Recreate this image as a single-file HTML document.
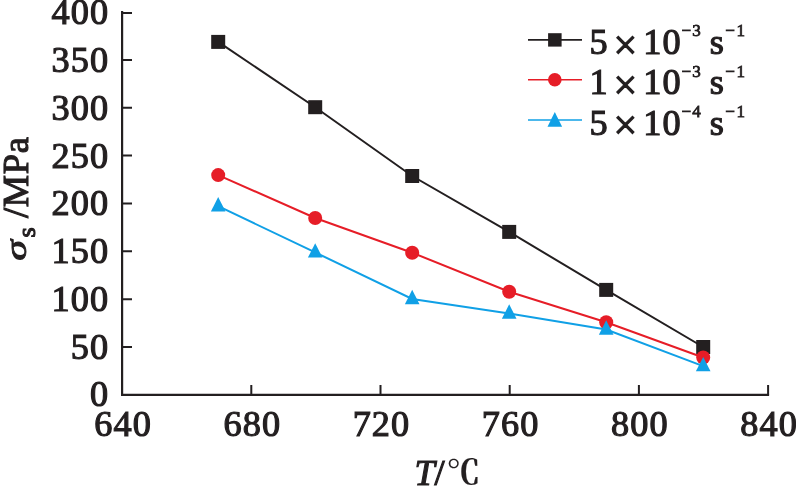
<!DOCTYPE html>
<html lang="en">
<head>
<meta charset="utf-8">
<title>Yield stress versus temperature</title>
<style>
html,body{margin:0;padding:0;background:#fff;}
body{width:796px;height:488px;overflow:hidden;}
svg{display:block;}
text{font-family:"Liberation Serif","Noto Serif CJK SC",serif;fill:#231f20;stroke:#231f20;stroke-width:1.15px;}
.num{font-size:36.3px;letter-spacing:1.1px;}
.yl{text-anchor:end;}
.xl{text-anchor:middle;}
.sup{font-size:17px;letter-spacing:0;stroke-width:0.8px;}
.mul{font-size:42px;stroke-width:1.2px;}
.it{font-style:italic;}
</style>
</head>
<body>
<svg width="796" height="488" viewBox="0 0 796 488">
<rect x="0" y="0" width="796" height="488" fill="#ffffff"/>

<!-- axes -->
<path d="M122.1 11 V394.85 H769.1" fill="none" stroke="#231f20" stroke-width="2.2"/>
<path d="M122.1 347.0 H132 M122.1 299.2 H132 M122.1 251.3 H132 M122.1 203.5 H132 M122.1 155.6 H132 M122.1 107.8 H132 M122.1 59.9 H132 M122.1 12.95 H132" fill="none" stroke="#231f20" stroke-width="2"/>
<path d="M251.3 394.85 V385 M380.5 394.85 V385 M509.7 394.85 V385 M638.9 394.85 V385 M768.1 394.85 V385" fill="none" stroke="#231f20" stroke-width="2"/>
<!-- y tick labels -->
<g class="num yl">
<text x="109.3" y="406.4">0</text>
<text x="109.3" y="358.6">50</text>
<text x="109.3" y="310.8">100</text>
<text x="109.3" y="263.1">150</text>
<text x="109.3" y="215.3">200</text>
<text x="109.3" y="167.6">250</text>
<text x="109.3" y="119.8">300</text>
<text x="109.3" y="72.1">350</text>
<text x="109.3" y="24.3">400</text>
</g>
<!-- x tick labels -->
<g class="num xl">
<text x="123.1" y="436.2">640</text>
<text x="252.3" y="436.2">680</text>
<text x="381.5" y="436.2">720</text>
<text x="510.7" y="436.2">760</text>
<text x="639.9" y="436.2">800</text>
<text x="769.1" y="436.2">840</text>
</g>
<!-- series 1 : black squares -->
<polyline points="218.2,41.9 315.2,107.2 412.2,176.0 509.2,231.9 606.2,289.9 703.2,347.0" fill="none" stroke="#231f20" stroke-width="2"/>
<g fill="#231f20">
<rect x="211.2" y="34.9" width="14" height="14"/>
<rect x="308.2" y="100.2" width="14" height="14"/>
<rect x="405.2" y="169.0" width="14" height="14"/>
<rect x="502.2" y="224.9" width="14" height="14"/>
<rect x="599.2" y="282.9" width="14" height="14"/>
<rect x="696.2" y="340.0" width="14" height="14"/>
</g>
<!-- series 2 : red circles -->
<polyline points="218.2,175.1 315.2,218.0 412.2,252.7 509.2,291.8 606.2,322.2 703.2,357.5" fill="none" stroke="#e61d27" stroke-width="2"/>
<g fill="#e61d27">
<circle cx="218.2" cy="175.1" r="7"/>
<circle cx="315.2" cy="218.0" r="7"/>
<circle cx="412.2" cy="252.7" r="7"/>
<circle cx="509.2" cy="291.8" r="7"/>
<circle cx="606.2" cy="322.2" r="7"/>
<circle cx="703.2" cy="357.5" r="7"/>
</g>
<!-- series 3 : blue triangles -->
<polyline points="218.2,206.2 315.2,252.4 412.2,299.0 509.2,313.5 606.2,329.5 703.2,366.1" fill="none" stroke="#10a0e6" stroke-width="2"/>
<g fill="#10a0e6">
<path d="M218.2 197.0 l7.3 14.4 h-14.6z"/>
<path d="M315.2 243.2 l7.3 14.4 h-14.6z"/>
<path d="M412.2 289.8 l7.3 14.4 h-14.6z"/>
<path d="M509.2 304.3 l7.3 14.4 h-14.6z"/>
<path d="M606.2 320.3 l7.3 14.4 h-14.6z"/>
<path d="M703.2 356.9 l7.3 14.4 h-14.6z"/>
</g>
<!-- legend -->
<path d="M528 39.9 H582" fill="none" stroke="#231f20" stroke-width="1.6"/>
<path d="M528 79.8 H582" fill="none" stroke="#e61d27" stroke-width="1.6"/>
<path d="M528 120 H582" fill="none" stroke="#10a0e6" stroke-width="1.6"/>
<rect x="548.1" y="33.2" width="13.5" height="13.4" fill="#231f20"/>
<circle cx="554.8" cy="79.8" r="6.8" fill="#e61d27"/>
<path d="M554.8 112 l7.3 14.7 h-14.6z" fill="#10a0e6"/>
<g class="num" transform="translate(0,0)">
<text x="589.4" y="54.2">5</text><text class="mul" x="613.6" y="59.0">×</text><text x="643.2" y="54.2">10</text>
<text class="sup" x="681.6" y="36.4">−</text><text class="sup" x="692.3" y="36.4">3</text><text x="709.8" y="54.2">s</text><text class="sup" x="725.3" y="36.4">−</text><text class="sup" x="736.5" y="36.4">1</text>
</g>
<g class="num" transform="translate(0,40.2)">
<text x="589.4" y="54.2">1</text><text class="mul" x="613.6" y="59.0">×</text><text x="643.2" y="54.2">10</text>
<text class="sup" x="681.6" y="36.4">−</text><text class="sup" x="692.3" y="36.4">3</text><text x="709.8" y="54.2">s</text><text class="sup" x="725.3" y="36.4">−</text><text class="sup" x="736.5" y="36.4">1</text>
</g>
<g class="num" transform="translate(0,80.4)">
<text x="589.4" y="54.2">5</text><text class="mul" x="613.6" y="59.0">×</text><text x="643.2" y="54.2">10</text>
<text class="sup" x="681.6" y="36.4">−</text><text class="sup" x="692.3" y="36.4">4</text><text x="709.8" y="54.2">s</text><text class="sup" x="725.3" y="36.4">−</text><text class="sup" x="736.5" y="36.4">1</text>
</g>
<!-- y axis title -->
<g transform="translate(27.6,261) rotate(-90)" class="num" style="letter-spacing:0">
<text class="it" transform="translate(0.4,-2) scale(1.14,0.84)" x="0" y="0">σ</text><text x="23.6" y="7" style="font-size:26px">s</text><text x="43" y="0" style="letter-spacing:0.7px">/MPa</text>
</g>
<!-- x axis title -->
<g class="num" style="letter-spacing:0">
<text class="it" x="414.4" y="484.6">T</text><text x="434.6" y="484.6">/</text><text x="446.8" y="483.9" style="font-size:33.4px;font-weight:700;stroke-width:0.2px">℃</text>
</g>
</svg>
</body>
</html>
